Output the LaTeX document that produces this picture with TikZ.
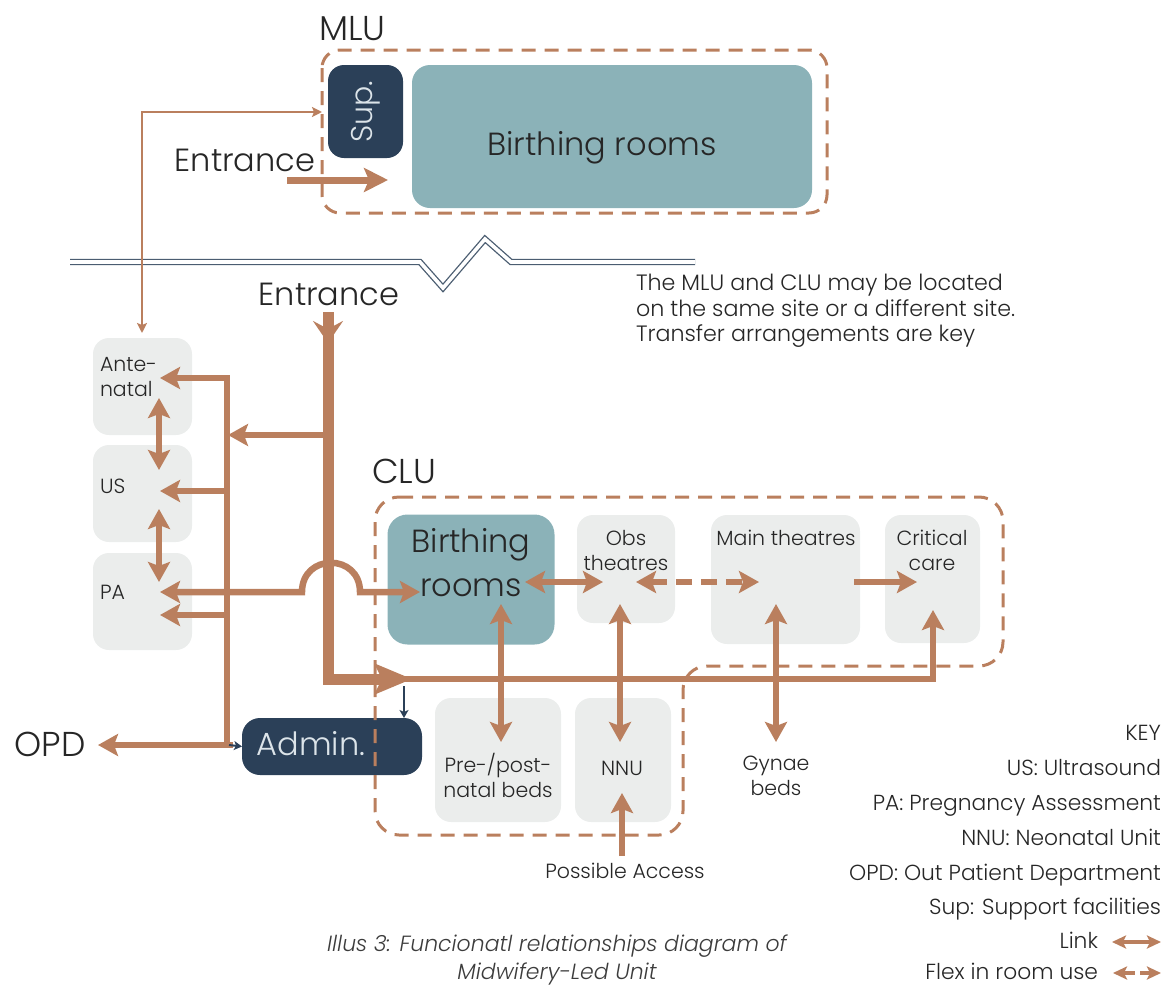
\documentclass[tikz,border=0pt]{standalone}
\usepackage{fontspec}
\setmainfont{Poppins}[UprightFont=* Light, ItalicFont=* Light Italic]
\usetikzlibrary{arrows.meta,calc}

\definecolor{brn}{HTML}{BA7F5E}
\definecolor{tealbox}{HTML}{8BB2B8}
\definecolor{navy}{HTML}{2B4058}
\definecolor{boxgray}{HTML}{EBEDEC}
\definecolor{ink}{HTML}{262626}
\definecolor{pale}{HTML}{DCE4E9}

\tikzset{
  every node/.style={inner sep=0pt, outer sep=0pt},
  big/.style={font=\fontsize{32}{36}\selectfont, text=ink},
  caps/.style={font=\fontsize{34.5}{38}\selectfont, text=ink},
  lbl/.style={font=\fontsize{20.5}{25}\selectfont, text=ink, align=center},
  note/.style={font=\fontsize{22.2}{25.5}\selectfont, text=ink, align=left},
  keytxt/.style={font=\fontsize{21.8}{25}\selectfont, text=ink, anchor=east, text height=16pt, text depth=5pt},
  room/.style={fill=boxgray, rounded corners=16pt},
  tealroom/.style={fill=tealbox, rounded corners=18pt},
  navyroom/.style={fill=navy, rounded corners=16pt},
  zone/.style={draw=brn, line width=3pt, dash pattern=on 14pt off 9pt, rounded corners=24pt},
  tipM/.tip={Stealth[length=20pt,width=22pt,inset=4pt]},
  tipS/.tip={Stealth[length=10pt,width=10pt,inset=2pt]},
  tipK/.tip={Stealth[length=14pt,width=13pt,inset=3pt]},
  flow/.style={draw=brn, line width=6.5pt},
  thinflow/.style={draw=brn, line width=2.5pt},
  breakline/.style={draw=navy!85!white, line width=1.3pt, double=white, double distance=3.6pt},
}

\begin{document}
\begin{tikzpicture}[x=1pt, y=-1pt]
\useasboundingbox (0,0) rectangle (1171,988);

% ---------------- MLU ----------------
\node[caps, anchor=west] (mlu) at (319,29) {MLU};
\node[tealroom, minimum width=400pt, minimum height=143pt] (mbirth) at (612,136.5) {};
\node[big] (mbirthtxt) at (602,148) {Birthing rooms};
\node[navyroom, minimum width=75pt, minimum height=93pt] (sup) at (365.5,111.5) {};
\node[font=\fontsize{30}{32}\selectfont, text=pale, rotate=90] (suptxt) at (366,112) {Sup.};
\node[big] (mentr) at (245,160) {Entrance};
\coordinate (mentrS) at (287,180);
\coordinate (mentrE) at (388,180);
\draw[draw=brn, line width=7pt, -{Stealth[length=24pt,width=24pt,inset=5pt]}] (mentrS) -- (mentrE);
\draw[zone, rounded corners=18pt] (322,50) rectangle (827,213);

% ---------------- site break ----------------
\draw[breakline] (70,262) -- (420,262) -- (443,288) -- (485,239) -- (511,262) -- (695,262);
\node[note, anchor=west] (sitenote) at (636,311) {The MLU and CLU may be located\\on the same site or a different site.\\Transfer arrangements are key};

% ---------------- antenatal column ----------------
\node[room, minimum width=99pt, minimum height=97pt] (ante) at (142.5,386.5) {};
\node[room, minimum width=99pt, minimum height=97pt] (us) at (142.5,493.5) {};
\node[room, minimum width=99pt, minimum height=97pt] (pa) at (142.5,601.5) {};
\node[lbl, align=left, anchor=west] (antetxt) at (100,377) {Ante-\\natal};
\node[lbl, anchor=west] (ustxt) at (100,486) {US};
\node[lbl, anchor=west] (patxt) at (100,592) {PA};

% link from antenatal up to MLU support
\coordinate (anteTop) at (142,333);
\coordinate (supIn) at (322,112);
\draw[thinflow, tipS-tipS] (anteTop) -- (142,112) -- (supIn);

\draw[flow, tipM-tipM] (159,398) -- (159,470);
\draw[flow, tipM-tipM] (159,509) -- (159,582);

% ---------------- CLU ----------------
\node[caps, anchor=west] (clu) at (372,471) {CLU};
\node[big] (centr) at (329,294) {Entrance};

\node[tealroom, minimum width=167pt, minimum height=130pt, rounded corners=20pt] (cbirth) at (471,579.5) {};
\node[big, align=center, font=\fontsize{32}{44}\selectfont] (cbirthtxt) at (471,563) {Birthing\\rooms};
\node[room, minimum width=98pt, minimum height=108pt] (obs) at (626,569) {};
\node[lbl] (obstxt) at (626,550) {Obs\\theatres};
\node[room, minimum width=149pt, minimum height=129pt] (mth) at (785.5,579.5) {};
\node[lbl] (mthtxt) at (786,538) {Main theatres};
\node[room, minimum width=95pt, minimum height=128pt] (crit) at (932.5,579) {};
\node[lbl] (crittxt) at (932,550) {Critical\\care};
\node[room, minimum width=126pt, minimum height=124pt] (post) at (498,760) {};
\node[lbl] (posttxt) at (498,775) {Pre-/post-\\natal beds};
\node[room, minimum width=96pt, minimum height=124pt] (nnu) at (623,760) {};
\node[lbl] (nnutxt) at (622,768) {NNU};
\node[lbl] (gynae) at (776,776) {Gynae\\beds};
\node[lbl] (access) at (625,871) {Possible Access};

\node[navyroom, minimum width=180pt, minimum height=57pt, rounded corners=18pt] (admin) at (332,746.5) {};
\node[font=\fontsize{32}{36}\selectfont, text=pale] (admintxt) at (311,744) {Admin.};

\node[caps] (opd) at (50,744) {OPD};

% ---------------- main entrance spine ----------------
\coordinate (spineTop) at (328,312);
\coordinate (spineCorner) at (328,679);
\coordinate (spineEnd) at (412,679);
\draw[draw=brn, line width=11pt, -{Stealth[length=37pt,width=30pt,inset=7pt]}] (spineTop) -- (spineCorner) -- (spineEnd);
\draw[draw=brn, line width=11pt, -{Stealth[length=22pt,width=30pt,inset=8pt]}] (spineTop) -- (328,343);

% branch to outpatient side
\coordinate (brTop) at (227,378);
\coordinate (brBot) at (227,745);
\draw[flow, -tipM] (brBot) -- (brTop) -- (160,378);
\draw[flow, -tipM] (328,435) -- (228,435);
\draw[flow, -tipM] (227,491) -- (160,491);
\draw[flow, -tipM] (227,615) -- (160,615);
\draw[flow, tipM-tipM] (160,592) -- (302,592) .. controls (302,553) and (360,553) .. (360,592) -- (420,592);
\draw[flow, -tipM] (233,745) -- (98,745);
\draw[draw=navy, line width=2pt, -{Stealth[length=8pt,width=9pt,inset=2pt]}] (229,745) -- (admin.west);
\draw[draw=navy, line width=2pt, -{Stealth[length=8pt,width=9pt,inset=2pt]}] (404,686) -- (404,718);

% internal corridor
\draw[flow, -tipM] (405,679) -- (933,679) -- (933,610);
\draw[flow, tipM-tipM] (525,582) -- (603,582);
\draw[flow, tipM-tipM, dash pattern=on 16pt off 9pt] (636,582) -- (759,582);
\draw[flow, -tipM] (854,582) -- (917,582);
\draw[flow, tipM-tipM] (501,604) -- (501,742);
\draw[flow, tipM-tipM] (620,604) -- (620,742);
\draw[flow, tipM-tipM] (776,604) -- (776,742);
\draw[flow, -tipM] (622,856) -- (622,793);

% CLU outline
\draw[zone] (375,497) -- (1003,497) -- (1003,666) -- (683,666) -- (683,835) -- (375,835) -- cycle;

% ---------------- key ----------------
\node[keytxt] (k0) at (1161,735) {KEY};
\node[keytxt] (k1) at (1161,770) {US: Ultrasound};
\node[keytxt] (k2) at (1161,805) {PA: Pregnancy Assessment};
\node[keytxt] (k3) at (1161,840) {NNU: Neonatal Unit};
\node[keytxt] (k4) at (1161,875) {OPD: Out Patient Department};
\node[keytxt] (k5) at (1161,909) {Sup: Support facilities};
\node[keytxt] (k6) at (1098,943) {Link};
\node[keytxt] (k7) at (1098,974) {Flex in room use};
\coordinate (l1) at (1112,942);
\coordinate (l2) at (1161,942);
\draw[draw=brn, line width=4pt, tipK-tipK] (l1) -- (l2);
\coordinate (f1) at (1113,973);
\coordinate (f2) at (1135,973);
\coordinate (f3) at (1140,973);
\coordinate (f4) at (1161,973);
\draw[draw=brn, line width=4pt, tipK-] (f1) -- (f2);
\draw[draw=brn, line width=4pt, -tipK] (f3) -- (f4);

% ---------------- caption ----------------
\node[font=\fontsize{22}{28}\itshape\selectfont, text=ink!90, align=center] (caption) at (557,960) {Illus 3: Funcionatl relationships diagram of\\Midwifery-Led Unit};
\end{tikzpicture}
\end{document}
